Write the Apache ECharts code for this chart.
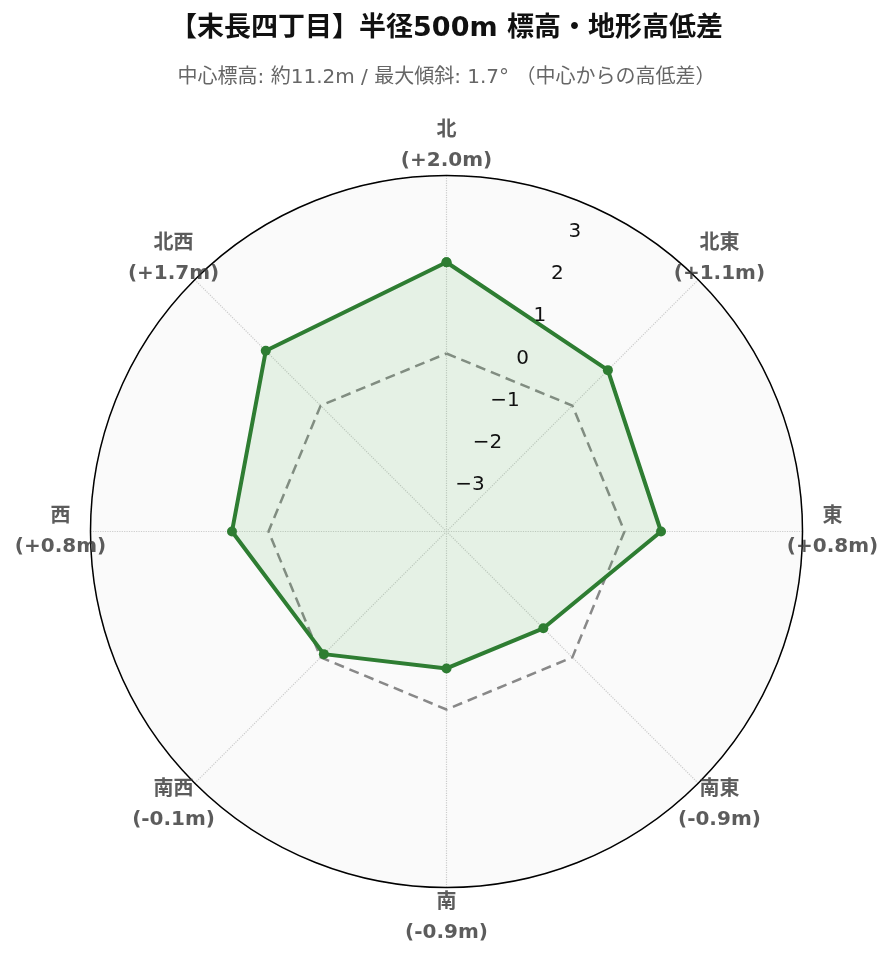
<!doctype html>
<html>
<head>
    <meta charset="utf-8">
    <title>末長四丁目 標高</title>
    <style type="text/css">
        body, html {
            width: 100%;
            height: 100%;
            margin: 0;
            padding: 0;
            background: #fff;
        }
    </style>
    <script src="https://cdn.jsdelivr.net/npm/echarts@6.0.0/dist/echarts.min.js"></script>
</head>
<body>
<div id="container" style="width: 893px; height: 962px"></div>
<script type="text/javascript">
    // 方位 (方位角, 度) と中心からの高低差 (m)
    const directions = ['北', '北東', '東', '南東', '南', '南西', '西', '北西'];
    const bearings = [0, 45, 90, 135, 180, 225, 270, 315];
    const diffs = [2.0, 1.1, 0.8, -0.9, -0.9, -0.1, 0.8, 1.7];
    const baseline = [0, 0, 0, 0, 0, 0, 0, 0];
    const radiusMin = -3.9;
    const radiusMax = 3.9;
    const radiusTicks = [-3, -2, -1, 0, 1, 2, 3];

    const FONT = "'DejaVu Sans', 'Noto Sans CJK JP', sans-serif";
    const CENTER = [446.5, 531.5];
    // 目盛ラベルを目盛位置から少し外側へずらす量 (半径の単位)
    const LABEL_SHIFT = 0.24;

    // 折れ線を閉じるため先頭の点を 360° にもう一度
    function closed(values) {
        const pts = values.map((v, i) => [v, bearings[i]]);
        pts.push([values[0], 360]);
        return pts;
    }

    function diffText(v) {
        return (v >= 0 ? '+' : '-') + Math.abs(v).toFixed(1) + 'm';
    }

    const dom = document.getElementById('container');
    const myChart = echarts.init(dom, null, {renderer: 'canvas'});

    const option = {
        animation: false,
        backgroundColor: '#fff',
        textStyle: {fontFamily: FONT},
        title: [
            {
                text: '【末長四丁目】半径500m 標高・地形高低差',
                left: 'center',
                top: 10,
                textStyle: {fontSize: 27, fontWeight: 'bold', color: '#111', fontFamily: FONT}
            },
            {
                text: '中心標高: 約11.2m / 最大傾斜: 1.7° （中心からの高低差）',
                left: 'center',
                top: 63,
                textStyle: {fontSize: 20, fontWeight: 'normal', color: '#666', fontFamily: FONT}
            }
        ],
        polar: [
            {center: CENTER, radius: 356},
            {center: CENTER, radius: 356},
            {center: CENTER, radius: 386}
        ],
        angleAxis: [
            {
                polarIndex: 0,
                type: 'value',
                min: 0,
                max: 360,
                interval: 45,
                startAngle: 90,
                clockwise: true,
                axisLine: {show: true, lineStyle: {color: '#000', width: 1.5}},
                axisTick: {show: false},
                axisLabel: {show: false},
                splitLine: {show: true, lineStyle: {color: '#cccccc', type: 'dotted', width: 1.2}}
            },
            {
                polarIndex: 1,
                type: 'value',
                min: 0,
                max: 360,
                startAngle: 67.5,
                clockwise: true,
                show: false
            },
            {
                polarIndex: 2,
                type: 'value',
                min: 0,
                max: 360,
                startAngle: 90,
                clockwise: true,
                show: false
            }
        ],
        radiusAxis: [
            {
                polarIndex: 0,
                type: 'value',
                min: radiusMin,
                max: radiusMax,
                splitNumber: 8,
                axisLine: {show: false},
                axisTick: {show: false},
                axisLabel: {show: false},
                splitLine: {show: true, lineStyle: {color: '#cccccc', type: 'dotted', width: 1.2}},
                splitArea: {show: true, areaStyle: {color: ['#fafafa']}}
            },
            {
                polarIndex: 1,
                type: 'value',
                min: radiusMin - LABEL_SHIFT,
                max: radiusMax - LABEL_SHIFT,
                splitNumber: 8,
                z: 20,
                axisLine: {show: false},
                axisTick: {show: false},
                splitLine: {show: false},
                axisLabel: {
                    show: true,
                    margin: -4,
                    align: 'center',
                    verticalAlign: 'middle',
                    fontSize: 20,
                    color: '#111',
                    fontFamily: FONT,
                    showMinLabel: true,
                    showMaxLabel: true,
                    formatter: function (v) {
                        const r = Math.round(v);
                        if (Math.abs(v - r) > 1e-6 || radiusTicks.indexOf(r) < 0) return '';
                        return String(r).replace('-', '\u2212');
                    }
                }
            },
            {
                polarIndex: 2,
                type: 'value',
                min: 0,
                max: 1,
                show: false
            }
        ],
        series: [
            {
                name: '中心',
                type: 'line',
                coordinateSystem: 'polar',
                polarIndex: 0,
                data: closed(baseline),
                symbol: 'none',
                lineStyle: {color: '#888888', width: 2.5, type: [10, 6]},
                z: 3
            },
            {
                name: '高低差',
                type: 'line',
                coordinateSystem: 'polar',
                polarIndex: 0,
                data: closed(diffs),
                symbol: 'circle',
                symbolSize: 10,
                itemStyle: {color: '#2e7d32'},
                lineStyle: {color: '#2e7d32', width: 4},
                areaStyle: {color: 'rgba(76,175,80,0.17)', origin: 'start'},
                z: 4
            },
            {
                name: '方位',
                type: 'scatter',
                coordinateSystem: 'polar',
                polarIndex: 2,
                data: bearings.map(b => [1, b]),
                symbolSize: 1,
                itemStyle: {color: 'rgba(0,0,0,0)'},
                label: {
                    show: true,
                    position: 'inside',
                    align: 'center',
                    verticalAlign: 'middle',
                    fontSize: 20,
                    fontWeight: 'bold',
                    lineHeight: 30,
                    color: '#333',
                    fontFamily: FONT,
                    formatter: function (p) {
                        const i = p.dataIndex;
                        return directions[i] + '\n(' + diffText(diffs[i]) + ')';
                    }
                },
                z: 10
            }
        ]
    };

    myChart.setOption(option);
    window.addEventListener('resize', myChart.resize);
</script>
</body>
</html>
